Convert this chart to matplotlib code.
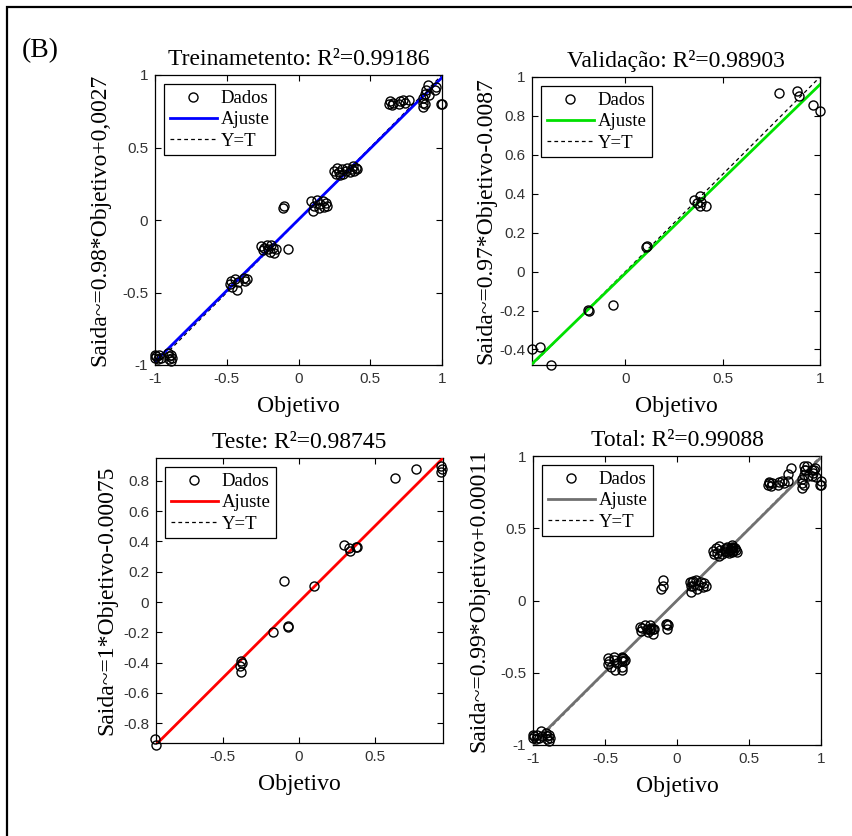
import numpy as np
import matplotlib
matplotlib.use('Agg')
import matplotlib.pyplot as plt
from matplotlib.patches import Rectangle

plt.rcParams['font.family'] = 'Liberation Serif'
plt.rcParams['axes.unicode_minus'] = False

# --- dados (alvo, saida) ---
train_t = [-1.0, -1.0, -0.99, -0.98, -0.97, -0.96, -0.91, -0.9, -0.9, -0.89, -0.89, -0.88,
           -0.48, -0.47, -0.46, -0.44, -0.43, -0.42, -0.38, -0.37, -0.36,
           -0.26, -0.25, -0.24, -0.22, -0.21, -0.2, -0.19, -0.18, -0.17, -0.16,
           -0.11, -0.1, -0.07,
           0.09, 0.1, 0.11, 0.13, 0.15, 0.17, 0.18, 0.19, 0.2, 0.14,
           0.25, 0.26, 0.27, 0.28, 0.3, 0.31, 0.33, 0.34, 0.36, 0.37, 0.38, 0.39, 0.4, 0.41, 0.29,
           0.63, 0.64, 0.65, 0.66, 0.7, 0.71, 0.73, 0.74, 0.77,
           0.87, 0.87, 0.87, 0.88, 0.88, 0.89, 0.9, 0.91, 0.95, 0.96, 1.0, 0.99]
train_y = [-0.93, -0.95, -0.94, -0.96, -0.93, -0.95, -0.92, -0.94, -0.96, -0.93, -0.97, -0.95,
           -0.44, -0.42, -0.46, -0.41, -0.48, -0.43, -0.40, -0.42, -0.41,
           -0.18, -0.21, -0.19, -0.17, -0.2, -0.22, -0.17, -0.19, -0.23, -0.2,
           0.08, 0.1, -0.2,
           0.13, 0.06, 0.1, 0.14, 0.11, 0.13, 0.09, 0.12, 0.1, 0.08,
           0.34, 0.32, 0.36, 0.33, 0.35, 0.32, 0.34, 0.36, 0.33, 0.35, 0.37, 0.34, 0.36, 0.35, 0.31,
           0.8, 0.82, 0.79, 0.81, 0.8, 0.82, 0.83, 0.81, 0.83,
           0.78, 0.81, 0.84, 0.87, 0.8, 0.9, 0.93, 0.86, 0.9, 0.92, 0.8, 0.8]

val_t = [-0.48, -0.44, -0.38, -0.19, -0.185, -0.063, 0.11, 0.105,
         0.35, 0.385, 0.39, 0.385, 0.416, 0.37, 0.79, 0.88, 0.89, 0.965, 1.0]
val_y = [-0.40, -0.39, -0.48, -0.198, -0.205, -0.17, 0.134, 0.128,
         0.367, 0.387, 0.36, 0.335, 0.335, 0.35, 0.92, 0.93, 0.90, 0.855, 0.826]

test_t = [-0.945, -0.94, -0.38, -0.375, -0.38, -0.385, -0.17, -0.073, -0.07, -0.1, 0.1,
          0.295, 0.334, 0.338, 0.378, 0.382, 0.637, 0.77, 0.94, 0.94, 0.945]
test_y = [-0.906, -0.94, -0.39, -0.40, -0.46, -0.42, -0.2, -0.16, -0.165, 0.14, 0.103,
          0.375, 0.355, 0.338, 0.366, 0.362, 0.816, 0.875, 0.9, 0.86, 0.88]

total_t = train_t + val_t + test_t
total_y = train_y + val_y + test_y

titles = ['Treinametento: R²=0.99186', 'Validação: R²=0.98903',
          'Teste: R²=0.98745', 'Total: R²=0.99088']
ylabels = ['Saida~=0.98*Objetivo+0,0027', 'Saida~=0.97*Objetivo-0.0087',
           'Saida~=1*Objetivo-0.00075', 'Saida~=0.99*Objetivo+0.00011']
slopes = [0.98, 0.97, 1.0, 0.99]
intercepts = [0.0027, -0.0087, -0.00075, 0.00011]
fit_colors = ['#0000ff', '#00e000', '#ff0000', '#707070']
xlims = [(-1, 1), (-0.48, 1), (-0.94, 0.95), (-1, 1)]
ylims = [(-1, 1), (-0.48, 1), (-0.93, 0.95), (-1, 1)]
xticks = [[-1, -0.5, 0, 0.5, 1], [0, 0.5, 1], [-0.5, 0, 0.5], [-1, -0.5, 0, 0.5, 1]]
yticks = [[-1, -0.5, 0, 0.5, 1], [-0.4, -0.2, 0, 0.2, 0.4, 0.6, 0.8, 1],
          [-0.8, -0.6, -0.4, -0.2, 0, 0.2, 0.4, 0.6, 0.8], [-1, -0.5, 0, 0.5, 1]]
datasets = [(train_t, train_y), (val_t, val_y), (test_t, test_y), (total_t, total_y)]

W, H = 853, 836
# caixas dos eixos em pixels: esquerda, topo, direita, base
boxes = [(155, 75, 442, 365), (532, 77, 820, 365),
         (156, 458, 443, 743), (533, 456, 821, 745)]
ylab_x = [-0.155, -0.122, -0.136, -0.15]

fig = plt.figure(figsize=(W / 100, H / 100), dpi=100)

for i in range(4):
    l, t, r, b = boxes[i]
    ax = fig.add_axes([l / W, (H - b) / H, (r - l) / W, (b - t) / H])
    tt, yy = datasets[i]
    ax.plot(tt, yy, 'o', mfc='none', mec='k', ms=6.5, mew=1.0, label='Dados',
            zorder=4, clip_on=False)
    xs = np.array(xlims[i])
    ax.plot(xs, slopes[i] * xs + intercepts[i], color=fit_colors[i], lw=2.0,
            label='Ajuste', zorder=3)
    ax.plot(xs, xs, 'k--', lw=0.9, label='Y=T', zorder=2, dashes=(3, 2.5))
    ax.set_xlim(xlims[i])
    ax.set_ylim(ylims[i])
    ax.set_xticks(xticks[i])
    ax.set_yticks(yticks[i])
    ax.set_xticklabels(['%g' % v for v in xticks[i]])
    ax.set_yticklabels(['%g' % v for v in yticks[i]])
    ax.tick_params(direction='in', length=4, width=0.8, top=True, right=True,
                   labelsize=11, labelcolor='#333333', pad=5)
    for lab in ax.get_xticklabels() + ax.get_yticklabels():
        lab.set_family('Liberation Sans')
    for sp in ax.spines.values():
        sp.set_linewidth(0.9)
    ax.set_title(titles[i], fontsize=17, pad=7)
    ax.set_xlabel('Objetivo', fontsize=17, labelpad=7)
    ax.set_ylabel(ylabels[i], fontsize=17)
    ax.yaxis.set_label_coords(ylab_x[i], 0.5)
    leg = ax.legend(loc='upper left', fontsize=13.5, numpoints=1, handlelength=2.5,
                    handletextpad=0.2, labelspacing=0.22, borderpad=0.3,
                    borderaxespad=0.5, fancybox=False, framealpha=1, edgecolor='k')
    leg.get_frame().set_linewidth(0.9)

fig.text(22 / W, 1 - 51 / H, '(B)', fontsize=20, va='center', ha='left')
fig.add_artist(Rectangle((7 / W, -0.05), 1.0, 1.05 - 7 / H, transform=fig.transFigure,
                         fill=False, lw=1.6, edgecolor='k'))

fig.savefig('out.png', dpi=100)
